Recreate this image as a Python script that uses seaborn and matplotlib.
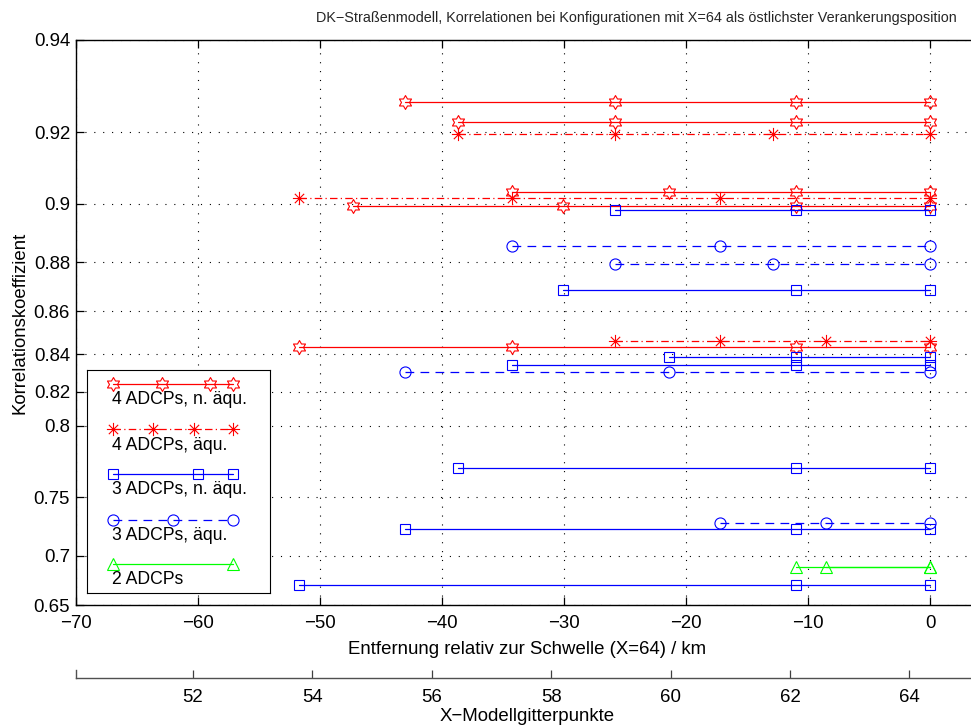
import numpy as np
import pandas as pd
import matplotlib
matplotlib.use("Agg")
import matplotlib.pyplot as plt
from matplotlib.path import Path
import seaborn as sns

# --- anchoring positions (km relative to the sill at X=64) and correlation of each configuration
four_neq_km = [[-43.0, -25.8, -11.0, 0.0],
               [-38.7, -25.8, -11.0, 0.0],
               [-34.3, -21.4, -11.0, 0.0],
               [-47.3, -30.1, -11.0, 0.0],
               [-51.7, -34.3, -11.0, 0.0]]
four_neq_r = [0.9271, 0.9226, 0.9035, 0.8994, 0.8436]

four_eq_km = [[-38.7, -25.8, -12.9, 0.0],
              [-51.7, -34.3, -17.2, 0.0],
              [-25.8, -17.2, -8.5, 0.0]]
four_eq_r = [0.9196, 0.9018, 0.8463]

three_neq_km = [[-25.8, -11.0, 0.0],
                [-30.1, -11.0, 0.0],
                [-21.4, -11.0, 0.0],
                [-34.3, -11.0, 0.0],
                [-38.7, -11.0, 0.0],
                [-43.0, -11.0, 0.0],
                [-51.7, -11.0, 0.0]]
three_neq_r = [0.8981, 0.8690, 0.8388, 0.8346, 0.7718, 0.7243, 0.6711]

three_eq_km = [[-34.3, -17.2, 0.0],
               [-25.8, -12.9, 0.0],
               [-43.0, -21.4, 0.0],
               [-17.2, -8.5, 0.0]]
three_eq_r = [0.8859, 0.8792, 0.8308, 0.7292]

two_km = [[-11.0, 0.0],
          [-8.5, 0.0]]
two_r = [0.6888, 0.6888]

group_labels = ["4 ADCPs, n. äqu.", "4 ADCPs, äqu.", "3 ADCPs, n. äqu.",
                "3 ADCPs, äqu.", "2 ADCPs"]

x_ticks = [-70, -60, -50, -40, -30, -20, -10, 0]
y_ticks = [0.65, 0.7, 0.75, 0.8, 0.82, 0.84, 0.86, 0.88, 0.9, 0.92, 0.94]
y_ticklabels = ["0.65", "0.7", "0.75", "0.8", "0.82", "0.84", "0.86", "0.88",
                "0.9", "0.92", "0.94"]
grid_ticks = [52, 54, 56, 58, 60, 62, 64]

title = ("DK\u2212Straßenmodell, Korrelationen bei Konfigurationen mit X=64 "
         "als östlichster Verankerungsposition")
xlabel = "Entfernung relativ zur Schwelle (X=64) / km"
xlabel2 = "X\u2212Modellgitterpunkte"
ylabel = "Korrelationskoeffizient"

# --- styling
sns.set_style("ticks")
plt.rcParams["font.family"] = ["Liberation Sans", "DejaVu Sans"]
plt.rcParams["axes.unicode_minus"] = True

FS = 13.4
W, H = 971, 726


def fx(px):
    return px / W


def fy(py):
    return 1 - py / H


# six-pointed star (hexagram) and eight-armed asterisk marker paths
hexagram = Path.unit_regular_star(6, innerCircle=1 / np.sqrt(3))
_av, _ac = [], []
for ang in (90, 0, 45, 135):
    a = np.deg2rad(ang)
    _av += [(-np.cos(a), -np.sin(a)), (np.cos(a), np.sin(a))]
    _ac += [Path.MOVETO, Path.LINETO]
asterisk = Path(_av, _ac)

RED, BLUE, GREEN = "#ff0000", "#0000ff", "#00ff00"
dashdot = (0, (6.0, 2.6, 1.0, 2.6))
dashed = (0, (7.0, 5.0))

styles = {
    "4 ADCPs, n. äqu.": dict(color=RED, marker=hexagram, ms=10.0, ls="-"),
    "4 ADCPs, äqu.": dict(color=RED, marker=asterisk, ms=9.5, ls=dashdot),
    "3 ADCPs, n. äqu.": dict(color=BLUE, marker="s", ms=6.6, ls="-"),
    "3 ADCPs, äqu.": dict(color=BLUE, marker="o", ms=8.0, ls=dashed),
    "2 ADCPs": dict(color=GREEN, marker="^", ms=8.6, ls="-"),
}

fig = plt.figure(figsize=(W / 100, H / 100), dpi=100)

ax_l, ax_r, ax_t, ax_b = 76, 979, 40, 605
ax = fig.add_axes([fx(ax_l), fy(ax_b), fx(ax_r - ax_l), (ax_b - ax_t) / H])

groups = [(four_neq_km, four_neq_r), (four_eq_km, four_eq_r),
          (three_neq_km, three_neq_r), (three_eq_km, three_eq_r),
          (two_km, two_r)]

for label, (km_list, r_list) in zip(group_labels, groups):
    rows = [(k, r, i) for i, (kms, r) in enumerate(zip(km_list, r_list)) for k in kms]
    df = pd.DataFrame(rows, columns=["km", "r", "cfg"])
    st = styles[label]
    sns.lineplot(data=df, x="km", y="r", units="cfg", estimator=None, sort=False,
                 ax=ax, color=st["color"], marker=st["marker"], markersize=st["ms"],
                 mec=st["color"], mfc="none", mew=0.8, linewidth=0.9,
                 linestyle=st["ls"], legend=False)


def fwd(r):
    r = np.asarray(r, dtype=float)
    return -np.log(np.clip(1 - r, 1e-9, None))


def inv(z):
    return 1 - np.exp(-np.asarray(z, dtype=float))


ax.set_yscale("function", functions=(fwd, inv))
ax.set_ylim(0.65, 0.94)
ax.set_xlim(-70, 4)
ax.set_yticks(y_ticks)
ax.set_yticklabels(y_ticklabels)
ax.set_xticks(x_ticks)
ax.minorticks_off()

ax.grid(True, color="black", linestyle=(0, (1, 7)), linewidth=0.8)
for side in ("top", "bottom", "left"):
    ax.spines[side].set_visible(True)
    ax.spines[side].set_color("black")
    ax.spines[side].set_linewidth(1.0)
ax.spines["right"].set_visible(False)

ax.tick_params(axis="both", which="major", direction="in", length=6.0, width=0.9,
               color="black", labelcolor="black", labelsize=FS,
               top=True, bottom=True, left=True, right=False)
ax.tick_params(axis="x", pad=7.0)
ax.tick_params(axis="y", pad=4.3)
for t in ax.xaxis.get_major_ticks():
    t.tick1line.set_visible(True)
    t.tick2line.set_visible(True)
for t in ax.yaxis.get_major_ticks():
    t.tick1line.set_visible(True)

ax.set_xlabel(xlabel, fontsize=FS, color="black")
ax.set_ylabel(ylabel, fontsize=FS, color="black")
ax.xaxis.set_label_coords(0.5, (ax_b - 640.5) / (ax_b - ax_t))
ax.yaxis.set_label_coords((29.0 - ax_l) / (ax_r - ax_l), 0.5)

# secondary axis: model grid index (a flat axes, only its base line and left edge shown)
ax2_h = 8.3
grid_x0 = 50.045
ax2 = fig.add_axes([fx(ax_l), fy(678), fx(ax_r - ax_l), ax2_h / H])
ax2.set_xlim(grid_x0, grid_x0 + (ax_r - ax_l) / 59.72)
ax2.set_xticks(grid_ticks)
ax2.set_yticks([])
ax2.patch.set_visible(False)
for side in ("top", "right"):
    ax2.spines[side].set_visible(False)
for side in ("bottom", "left"):
    ax2.spines[side].set_visible(True)
    ax2.spines[side].set_color("#505050")
    ax2.spines[side].set_linewidth(1.0)
ax2.tick_params(axis="x", which="major", direction="in", length=6.0, width=0.9,
                color="#404040", labelcolor="black", bottom=True, top=False,
                pad=8.0, labelsize=FS)
ax2.tick_params(axis="y", left=False, right=False)
for t in ax2.xaxis.get_major_ticks():
    t.tick1line.set_visible(True)
ax2.set_xlabel(xlabel2, fontsize=FS, color="black")
ax2.xaxis.set_label_coords(fx((ax_l + ax_r) / 2), fy(708), transform=fig.transFigure)

fig.text(fx(957), fy(18), title, ha="right", va="center", fontsize=10.4)

# legend box with one sample line above each label
lg_l, lg_r, lg_t, lg_b = 87, 270, 370, 593
axl = fig.add_axes([fx(lg_l), fy(lg_b), fx(lg_r - lg_l), (lg_b - lg_t) / H])
axl.set_xlim(0, lg_r - lg_l)
axl.set_ylim(lg_b - lg_t, 0)
axl.set_xticks([])
axl.set_yticks([])
axl.tick_params(left=False, bottom=False)
axl.set_facecolor("white")
for s in axl.spines.values():
    s.set_color("black")
    s.set_linewidth(0.8)
    s.set_visible(True)

sample_x0, sample_x1 = 25.7, 146.3
sample_y = [14, 59.3, 104, 150, 194]
marker_frac = [[0, 0.406, 0.806, 1], [0, 0.332, 0.674, 1], [0, 0.709, 1],
               [0, 0.5, 1], [0, 1]]
for label, yy, fr in zip(group_labels, sample_y, marker_frac):
    st = styles[label]
    axl.plot([sample_x0, sample_x1], [yy, yy], color=st["color"], linestyle=st["ls"],
             linewidth=0.9)
    xs = [sample_x0 + f * (sample_x1 - sample_x0) for f in fr]
    axl.plot(xs, [yy] * len(xs), linestyle="none", marker=st["marker"],
             markersize=st["ms"], mec=st["color"], mfc="none", mew=0.8)
    axl.text(25, yy + 16, label, fontsize=12.7, ha="left", va="center", color="black")

fig.savefig("out.png", dpi=100)
